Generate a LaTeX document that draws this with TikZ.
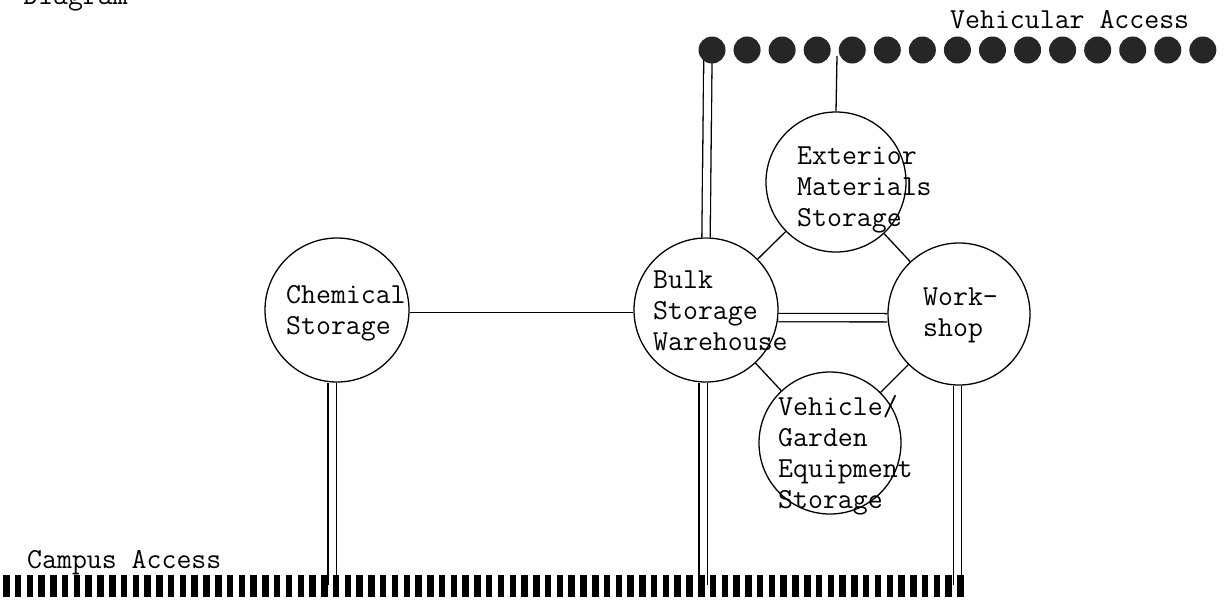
\documentclass[tikz,border=0pt]{standalone}
\usepackage{fontspec}
\begin{document}
\begin{tikzpicture}[x=1pt,y=-1pt,
  every node/.style={font=\ttfamily\fontsize{29}{31}\selectfont},
  room/.style={draw, circle, line width=1.3pt, minimum size=#1, inner sep=0pt},
  lbl/.style={anchor=base west, align=left, inner sep=0pt},
  link/.style={line width=1.3pt},
  dbl/.style={double, double distance=7pt, line width=1.3pt},
  dotnode/.style={circle, fill=black!85, minimum size=27pt, inner sep=0pt},
  bar/.style={fill=black}]
\useasboundingbox (0,0) rectangle (1226,600);

% rooms
\node[room=144pt] (chem) at (337,310) {};
\node[room=144pt] (bulk) at (706,310) {};
\node[room=140pt] (ext)  at (836,182) {};
\node[room=142pt] (ws)   at (959,314) {};
\node[room=142pt] (veh)  at (830,443) {};

% access points
\coordinate (v1) at (708,50);
\coordinate (v2) at (837,56);
\coordinate (c1) at (332,585);
\coordinate (c2) at (703,585);
\coordinate (c3) at (957.5,585);

% connectors
\draw[link] (chem.-2) -- (bulk.182);
\draw[dbl] (bulk.-6) -- (ws.183);
\draw[link] (bulk) -- (ext);
\draw[link] (ext) -- (ws);
\draw[link] (bulk) -- (veh);
\draw[link] (veh) -- (ws);
\draw[dbl] (bulk.north) -- (v1);
\draw[link] (ext.north) -- (v2);
\draw[dbl] (c1 |- chem.south) -- (c1);
\draw[dbl] (c2 |- bulk.south) -- (c2);
\draw[dbl] (c3 |- ws.south) -- (c3);

% vehicular access dots
\foreach \i in {0,...,14} \node[dotnode] (d\i) at (712+\i*35.06,50) {};

% campus access bars
\foreach \i in {0,...,81} \fill[bar] (3+\i*11.78,575) rectangle ++(6.5,22);

% labels (anchored at the baseline of the last line)
\node[lbl] (tchem) at (286,334) {Chemical\\Storage};
\node[lbl] (tbulk) at (653,350) {Bulk\\Storage\\Warehouse};
\node[lbl] (text) at (797,226) {Exterior\\Materials\\Storage};
\node[lbl] (tws) at (923,336) {Work-\\shop};
\node[lbl] (tveh) at (778,508) {Vehicle/\\Garden\\Equipment\\Storage};
\node[lbl] (tva) at (950,28) {Vehicular Access};
\node[lbl] (tca) at (27,568) {Campus Access};
\node[inner sep=0pt, anchor=base east] (title) at (128,4) {Diagram};
\end{tikzpicture}
\end{document}
